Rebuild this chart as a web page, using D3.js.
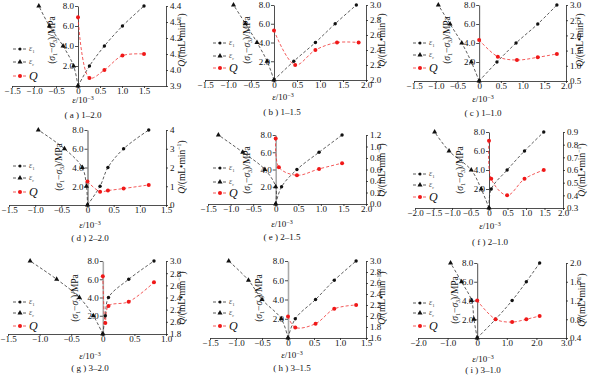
<!DOCTYPE html>
<html><head><meta charset="utf-8">
<script src="https://cdn.jsdelivr.net/npm/d3@7"></script>
<style>
body{margin:0;background:#fff;}
svg{display:block;font-family:"Liberation Serif","Times New Roman",serif;}
</style></head>
<body><svg id="c" width="600" height="377"></svg>
<script>
// ---------- DATA ----------
const stress = [0, 2, 4, 6, 8];
const stressTicks = [2, 4, 6, 8];

const a_eps1 = [0, 0.26, 0.60, 1.01, 1.50];
const a_eps3 = [0, -0.10, -0.34, -0.65, -0.89];
const a_qStrain = [0, 0.26, 0.60, 1.01, 1.50];
const a_q = [4.33, 3.95, 4.00, 4.09, 4.10];
const a_xTicks = [-1.5, -1.0, -0.5, 0, 0.5, 1.0, 1.5];
const a_qTicks = [3.9, 4.0, 4.1, 4.2, 4.3, 4.4];

const b_eps1 = [0, 0.43, 0.90, 1.33, 1.79];
const b_eps3 = [0, -0.15, -0.37, -0.62, -0.88];
const b_qStrain = [0, 0.46, 0.90, 1.37, 1.84];
const b_q = [2.66, 2.20, 2.40, 2.50, 2.50];
const b_xTicks = [-1.5, -1.0, -0.5, 0, 0.5, 1.0, 1.5, 2.0];
const b_qTicks = [2.0, 2.2, 2.4, 2.6, 2.8, 3.0];

const c_eps1 = [0, 0.41, 0.85, 1.35, 1.79];
const c_eps3 = [0, -0.18, -0.40, -0.67, -0.94];
const c_qStrain = [0, 0.43, 0.87, 1.35, 1.79];
const c_q = [1.85, 1.30, 1.19, 1.28, 1.39];
const c_xTicks = [-1.5, -1.0, -0.5, 0, 0.5, 1.0, 1.5, 2.0];
const c_qTicks = [0.5, 1.0, 1.5, 2.0, 2.5, 3.0];

const d_eps1 = [0, 0.24, 0.39, 0.69, 1.17];
const d_eps3 = [0, -0.02, -0.10, -0.44, -0.94];
const d_qStrain = [0, 0.24, 0.39, 0.69, 1.17];
const d_q = [1.25, 0.71, 0.77, 0.88, 1.07];
const d_xTicks = [-1.5, -1.0, -0.5, 0, 0.5, 1.0, 1.5];
const d_qTicks = [0, 1, 2, 3, 4];

const e_eps1 = [0, 0.13, 0.47, 0.96, 1.47];
const e_eps3 = [0, 0.0, -0.24, -0.73, -1.27];
const e_qStrain = [0, 0.07, 0.47, 0.96, 1.47];
const e_q = [1.14, 0.64, 0.50, 0.61, 0.71];
const e_xTicks = [-1.5, -1.0, -0.5, 0, 0.5, 1.0, 1.5, 2.0];
const e_qTicks = [0, 0.2, 0.4, 0.6, 0.8, 1.0, 1.2];

const f_eps1 = [0, 0.06, 0.49, 0.96, 1.48];
const f_eps3 = [0, -0.21, -0.48, -1.08, -1.47];
const f_qStrain = [0, 0.06, 0.49, 0.96, 1.48];
const f_q = [0.83, 0.53, 0.40, 0.53, 0.60];
const f_xTicks = [-2.0, -1.5, -1.0, -0.5, 0, 0.5, 1.0, 1.5, 2.0];
const f_qTicks = [0.3, 0.4, 0.5, 0.6, 0.7, 0.8, 0.9];

const g_eps1 = [0, 0.04, 0.09, 0.41, 0.81];
const g_eps3 = [0, -0.15, -0.37, -0.73, -1.15];
const g_qStrain = [0, 0.04, 0.09, 0.41, 0.81];
const g_q = [2.75, 1.98, 2.26, 2.33, 2.65];
const g_xTicks = [-1.5, -1.0, -0.5, 0, 0.5, 1.0];
const g_qTicks = [1.8, 2.0, 2.2, 2.4, 2.6, 2.8, 3.0];

const h_eps1 = [0, 0.14, 0.53, 0.89, 1.31];
const h_eps3 = [0, -0.13, -0.50, -0.76, -1.14];
const h_qStrain = [0, 0.14, 0.53, 0.89, 1.31];
const h_q = [1.99, 1.79, 1.86, 2.13, 2.20];
const h_xTicks = [-1.5, -1.0, -0.5, 0, 0.5, 1.0, 1.5];
const h_qTicks = [1.6, 1.8, 2.0, 2.2, 2.4, 2.6, 2.8, 3.0];

const i_eps1 = [0, 0.62, 1.18, 1.66, 2.11];
const i_eps3 = [0, -0.11, -0.19, -0.53, -0.90];
const i_qStrain = [0, 0.62, 1.18, 1.66, 2.11];
const i_q = [1.20, 0.80, 0.74, 0.80, 0.87];
const i_xTicks = [-2.0, -1.0, 0, 1.0, 2.0, 3.0];
const i_qTicks = [0.4, 0.8, 1.2, 1.6, 2.0];

const captions = ["( a ) 1–2.0","( b ) 1–1.5","( c ) 1–1.0","( d ) 2–2.0","( e ) 2–1.5","( f ) 2–1.0","( g ) 3–2.0","( h ) 3–1.5","( i ) 3–1.0"];

// ---------- LAYOUT ----------
const panels = [
 {eps1:a_eps1,eps3:a_eps3,qs:a_qStrain,q:a_q,xt:a_xTicks,qt:a_qTicks,xd:[-1.5,2.0],qd:[3.9,4.4],L:12,R:166,T:6,B:86,yl:55,ql:185,lc:40,xl:[83,100],cap:[83,115],lx:13,ly:[49,62,76],hideX:[2.0]},
 {eps1:b_eps1,eps3:b_eps3,qs:b_qStrain,q:b_q,xt:b_xTicks,qt:b_qTicks,xd:[-1.5,2.0],qd:[2.0,3.0],L:205,R:366,T:5,B:80,yl:250,ql:385,lc:40,xl:[283,97],cap:[282,112],lx:213,ly:[43,56,68]},
 {eps1:c_eps1,eps3:c_eps3,qs:c_qStrain,q:c_q,xt:c_xTicks,qt:c_qTicks,xd:[-1.5,2.0],qd:[0.5,3.0],L:414,R:566,T:5,B:81,yl:450,ql:583,lc:40,xl:[483,99],cap:[483,113],lx:413,ly:[43,55,68]},
 {eps1:d_eps1,eps3:d_eps3,qs:d_qStrain,q:d_q,xt:d_xTicks,qt:d_qTicks,xd:[-1.5,1.5],qd:[0,4],L:9,R:166,T:130,B:205,yl:62,ql:185,lc:167,xl:[90,225],cap:[90,238],lx:13,ly:[166,178,192],intQ:true},
 {eps1:e_eps1,eps3:e_eps3,qs:e_qStrain,q:e_q,xt:e_xTicks,qt:e_qTicks,xd:[-1.5,2.0],qd:[0,1.2],L:208,R:366,T:135,B:204,yl:250,ql:385,lc:170,xl:[282,224],cap:[282,237],lx:213,ly:[168,182,193],grayAxis:true},
 {eps1:f_eps1,eps3:f_eps3,qs:f_qStrain,q:f_q,xt:f_xTicks,qt:f_qTicks,xd:[-2.0,2.0],qd:[0.3,0.9],L:415,R:563,T:132,B:208,yl:463,ql:585,lc:170,xl:[490,226],cap:[490,242],lx:413,ly:[174,185,197]},
 {eps1:g_eps1,eps3:g_eps3,qs:g_qStrain,q:g_q,xt:g_xTicks,qt:g_qTicks,xd:[-1.5,1.0],qd:[1.8,3.0],L:8,R:166,T:261,B:334,yl:78,ql:185,lc:298,xl:[90,356],cap:[90,368],lx:13,ly:[302,313,326],grayAxis:true},
 {eps1:h_eps1,eps3:h_eps3,qs:h_qStrain,q:h_q,xt:h_xTicks,qt:h_qTicks,xd:[-1.5,1.5],qd:[1.6,3.0],L:210,R:366,T:261,B:338,yl:262,ql:385,lc:298,xl:[292,355],cap:[292,368],lx:213,ly:[302,313,326],grayAxis:true},
 {eps1:i_eps1,eps3:i_eps3,qs:i_qStrain,q:i_q,xt:i_xTicks,qt:i_qTicks,xd:[-2.0,3.0],qd:[0.4,2.0],L:418,R:566,T:263,B:338,yl:458,ql:585,lc:300,xl:[483,359],cap:[483,370],lx:413,ly:[303,313,326]}
];

const svg = d3.select("#c");
const FS = 9;
const fmt1 = v => v === 0 ? "0" : d3.format(".1f")(v).replace("-", "−");
const tri = d3.symbol().type(d3.symbolTriangle).size(11);

panels.forEach((p, k) => {
  const g = svg.append("g");
  const x = d3.scaleLinear().domain(p.xd).range([p.L, p.R]);
  const y = d3.scaleLinear().domain([0, 8]).range([p.B, p.T]);
  const yq = d3.scaleLinear().domain(p.qd).range([p.B, p.T]);

  // x axis
  const xa = g.append("g").attr("transform", `translate(0,${p.B})`)
    .call(d3.axisBottom(x).tickValues(p.xt).tickSize(2).tickSizeOuter(0).tickPadding(0)
      .tickFormat(v => (p.hideX && p.hideX.includes(v)) ? "" : fmt1(v)));
  // stress axis at x = 0
  const ya = g.append("g").attr("transform", `translate(${x(0)},0)`)
    .call(d3.axisLeft(y).tickValues(stressTicks).tickSize(3).tickSizeOuter(0).tickPadding(1)
      .tickFormat(d3.format(".1f")));
  // Q axis at right
  const qa = g.append("g").attr("transform", `translate(${p.R},0)`)
    .call(d3.axisRight(yq).tickValues(p.qt).tickSize(2).tickSizeOuter(0).tickPadding(2)
      .tickFormat(p.intQ ? d3.format("d") : d3.format(".1f")));
  [xa, ya, qa].forEach(a => {
    a.selectAll("text").attr("font-size", FS).attr("font-family", "Liberation Serif").attr("fill", "#111");
    a.selectAll("line,path").attr("stroke", "#222").attr("stroke-width", 0.8);
  });
  if (p.grayAxis) ya.select("path").attr("stroke", "#aaa").attr("stroke-width", 1.6);

  const curve = d3.curveCatmullRom.alpha(0.5);
  const ptsE1 = stress.map((s, j) => [p.eps1[j], s]);
  const ptsE3 = stress.map((s, j) => [p.eps3[j], s]);
  const ptsQ = p.q.map((v, j) => [p.qs[j], v]);
  const lineS = d3.line().x(d => x(d[0])).y(d => y(d[1])).curve(curve);
  const lineQ = d3.line().x(d => x(d[0])).y(d => yq(d[1])).curve(curve);

  g.append("path").attr("d", lineS(ptsE1)).attr("fill", "none").attr("stroke", "#333").attr("stroke-width", 0.8).attr("stroke-dasharray", "3,2");
  g.append("path").attr("d", lineS(ptsE3)).attr("fill", "none").attr("stroke", "#333").attr("stroke-width", 0.8).attr("stroke-dasharray", "3,2");
  g.append("path").attr("d", lineQ(ptsQ)).attr("fill", "none").attr("stroke", "#f03030").attr("stroke-width", 0.8).attr("stroke-dasharray", "3,2");

  g.selectAll(".m1").data(ptsE1).join("circle").attr("cx", d => x(d[0])).attr("cy", d => y(d[1])).attr("r", 1.7).attr("fill", "#111");
  g.selectAll(".m3").data(ptsE3).join("path").attr("d", tri).attr("transform", d => `translate(${x(d[0])},${y(d[1])})`).attr("fill", "#111");
  g.selectAll(".mq").data(ptsQ).join("circle").attr("cx", d => x(d[0])).attr("cy", d => yq(d[1])).attr("r", 2).attr("fill", "#f01818");

  // axis titles
  const yt = g.append("text").attr("transform", `translate(${p.yl},${p.lc}) rotate(-90)`).attr("text-anchor", "middle").attr("font-size", FS + 0.5).attr("fill", "#111");
  yt.append("tspan").text("(");
  yt.append("tspan").attr("font-style", "italic").text("σ");
  yt.append("tspan").attr("font-size", 6).attr("dy", 2).text("1");
  yt.append("tspan").attr("dy", -2).text("−");
  yt.append("tspan").attr("font-style", "italic").text("σ");
  yt.append("tspan").attr("font-size", 6).attr("dy", 2).text("3");
  yt.append("tspan").attr("dy", -2).text(")/MPa");

  const qt = g.append("text").attr("transform", `translate(${p.ql},${p.lc}) rotate(-90)`).attr("text-anchor", "middle").attr("font-size", FS + 0.5).attr("fill", "#111");
  qt.append("tspan").attr("font-style", "italic").text("Q");
  qt.append("tspan").text("/(mL•min");
  qt.append("tspan").attr("font-size", 6).attr("dy", -4).text("−1");
  qt.append("tspan").attr("dy", 4).text(")");

  const xt = g.append("text").attr("x", p.xl[0]).attr("y", p.xl[1] + 3).attr("text-anchor", "middle").attr("font-size", FS).attr("fill", "#111");
  xt.append("tspan").attr("font-style", "italic").text("ε");
  xt.append("tspan").text("/10");
  xt.append("tspan").attr("font-size", 6).attr("dy", -3).text("−3");

  g.append("text").attr("x", p.cap[0]).attr("y", p.cap[1] + 3).attr("text-anchor", "middle").attr("font-size", FS).attr("fill", "#111").text(captions[k]);

  // legend
  const leg = [{c:"#333", m:"c", t:"1"}, {c:"#333", m:"t", t:"r"}, {c:"#f03030", m:"q", t:"Q"}];
  leg.forEach((l, j) => {
    const ly = p.ly[j];
    g.append("line").attr("x1", p.lx).attr("x2", p.lx + 13).attr("y1", ly).attr("y2", ly).attr("stroke", l.c).attr("stroke-width", 0.8).attr("stroke-dasharray", "3,2");
    if (l.m === "c") g.append("circle").attr("cx", p.lx + 7).attr("cy", ly).attr("r", 1.5).attr("fill", "#111");
    if (l.m === "t") g.append("path").attr("d", tri).attr("transform", `translate(${p.lx + 7},${ly})`).attr("fill", "#111");
    if (l.m === "q") g.append("circle").attr("cx", p.lx + 7).attr("cy", ly).attr("r", 2).attr("fill", "#f01818");
    if (l.m === "q") {
      g.append("text").attr("x", p.lx + 16).attr("y", ly + 4).attr("font-size", 12).attr("font-style", "italic").attr("fill", "#111").text("Q");
    } else {
      const t = g.append("text").attr("x", p.lx + 16).attr("y", ly + 2).attr("font-size", 8).attr("fill", "#555");
      t.append("tspan").attr("font-style", "italic").text("ε");
      t.append("tspan").attr("font-size", 5).attr("dy", 2).text(l.t);
    }
  });
});
</script></body></html>
